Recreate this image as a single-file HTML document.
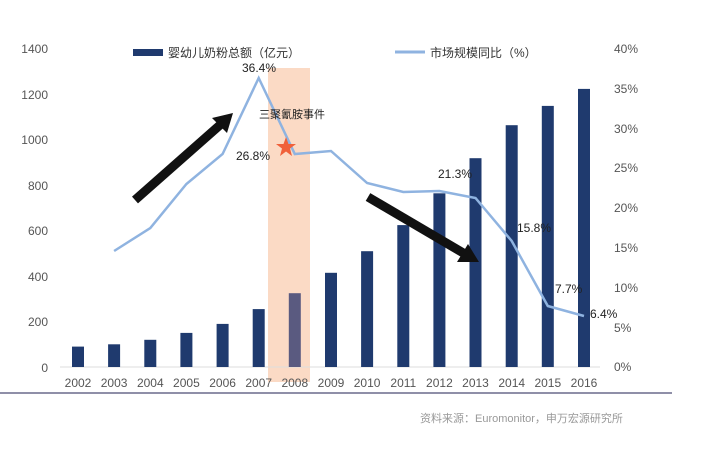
<!DOCTYPE html><html><head><meta charset="utf-8"><style>body{margin:0;background:#fff}svg text{font-family:"Liberation Sans","Noto Sans CJK SC",sans-serif}</style></head><body>
<svg width="703" height="445" xmlns="http://www.w3.org/2000/svg">
<rect x="268" y="68" width="42" height="314" fill="#fbd6bf" opacity="0.9"/>
<g font-size="12" fill="#555" text-anchor="end">
<text x="48" y="53">1400</text><text x="48" y="99">1200</text><text x="48" y="144">1000</text><text x="48" y="190">800</text><text x="48" y="235">600</text><text x="48" y="281">400</text><text x="48" y="326">200</text><text x="48" y="372">0</text></g>
<g font-size="12" fill="#555"><text x="614" y="53">40%</text><text x="614" y="93">35%</text><text x="614" y="133">30%</text><text x="614" y="172">25%</text><text x="614" y="212">20%</text><text x="614" y="252">15%</text><text x="614" y="292">10%</text><text x="614" y="332">5%</text><text x="614" y="371">0%</text></g>
<line x1="60" y1="367" x2="600" y2="367" stroke="#ddd"/>
<g fill="#1f3a6e">
<rect x="72" y="346.6" width="12" height="20.4"/>
<rect x="108.1" y="344.3" width="12" height="22.7"/>
<rect x="144.3" y="339.8" width="12" height="27.2"/>
<rect x="180.4" y="332.9" width="12" height="34.1"/>
<rect x="216.6" y="323.9" width="12" height="43.1"/>
<rect x="252.7" y="309.1" width="12" height="57.9"/>
<rect x="288.8" y="293.2" width="12" height="73.8" fill="#5a5a80"/>
<rect x="325" y="272.8" width="12" height="94.2"/>
<rect x="361.1" y="251.2" width="12" height="115.8"/>
<rect x="397.3" y="225.1" width="12" height="141.9"/>
<rect x="433.4" y="193.3" width="12" height="173.7"/>
<rect x="469.5" y="158.2" width="12" height="208.8"/>
<rect x="505.7" y="125.2" width="12" height="241.8"/>
<rect x="541.8" y="105.9" width="12" height="261.1"/>
<rect x="578" y="88.9" width="12" height="278.1"/>
</g>
<g font-size="12" fill="#555" text-anchor="middle">
<text x="78" y="387">2002</text><text x="114.1" y="387">2003</text><text x="150.3" y="387">2004</text><text x="186.4" y="387">2005</text><text x="222.6" y="387">2006</text><text x="258.7" y="387">2007</text><text x="294.8" y="387">2008</text><text x="331" y="387">2009</text><text x="367.1" y="387">2010</text><text x="403.3" y="387">2011</text><text x="439.4" y="387">2012</text><text x="475.5" y="387">2013</text><text x="511.7" y="387">2014</text><text x="547.8" y="387">2015</text><text x="584" y="387">2016</text>
</g>
<line x1="0" y1="393" x2="672" y2="393" stroke="#6a6a8c" stroke-width="1.5"/>
<polyline points="114.1,251 150.3,228 186.4,184 222.6,154 258.7,78 294.8,154 331,151 367.1,183 403.3,192 439.4,191 475.5,198 511.7,241 547.8,306 584,316" fill="none" stroke="#8fb3e0" stroke-width="2.5"/>
<polygon points="286,137 288.5,144 296,144 290,148.5 292,156 286,151.5 280,156 282,148.5 276,144 283.5,144" fill="#f0603a"/>
<line x1="135" y1="200" x2="220" y2="125" stroke="#111" stroke-width="9"/>
<polygon points="233,113 212,118 227,133" fill="#111"/>
<line x1="368" y1="197" x2="465" y2="254" stroke="#111" stroke-width="9"/>
<polygon points="479,262 457,262 468,244" fill="#111"/>
<rect x="133" y="49" width="30" height="7" fill="#1f3a6e"/>
<text x="168" y="57" font-size="12" fill="#333">婴幼儿奶粉总额（亿元）</text>
<line x1="395" y1="52" x2="425" y2="52" stroke="#8fb3e0" stroke-width="3"/>
<text x="430" y="57" font-size="12" fill="#333">市场规模同比（%）</text>
<g font-size="12" fill="#222"><text x="242" y="72">36.4%</text><text x="236" y="160">26.8%</text><text x="259" y="118" font-size="11">三聚氰胺事件</text><text x="438" y="178">21.3%</text><text x="517" y="232">15.8%</text><text x="555" y="293">7.7%</text><text x="590" y="318">6.4%</text></g>
<text x="420" y="422" font-size="11" fill="#999">资料来源：Euromonitor，申万宏源研究所</text>
</svg></body></html>
